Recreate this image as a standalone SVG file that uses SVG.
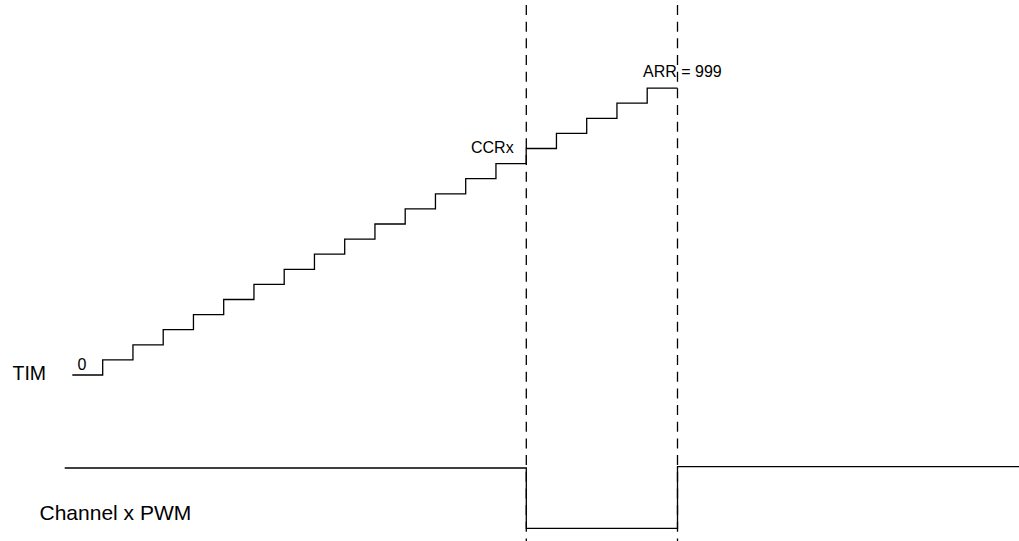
<svg xmlns="http://www.w3.org/2000/svg" width="1019" height="541" viewBox="0 0 1019 541">
<style>
.ln{fill:none;stroke:#000;stroke-width:1.3}
.dash{fill:none;stroke:#000;stroke-width:1.3;stroke-dasharray:10 6.67}
text{font-family:"Liberation Sans",Arial,sans-serif;fill:#000}
</style>
<rect width="1019" height="541" fill="#fff"/>
<g id="connectors">
<line class="dash" x1="526.3" y1="5" x2="526.3" y2="541"/>
<line class="dash" x1="677.5" y1="5" x2="677.5" y2="541"/>
</g>
<g id="tim-counter">
<path class="ln" d="M72.3,375 H102.7 V359.9 H132.95 V344.8 H163.2 V329.7 H193.45 V314.6 H223.7 V299.5 H253.95 V284.4 H284.2 V269.3 H314.45 V254.2 H344.7 V239.1 H374.95 V224 H405.2 V208.9 H435.45 V193.8 H465.7 V178.7 H495.95 V163.6 H526.2 V148.5 H556.45 V133.4 H586.7 V118.3 H616.95 V103.2 H647.2 V88.1 H677.5"/>
<text x="12.5" y="380" font-size="19.5">TIM</text>
<text x="77.5" y="369.5" font-size="16">0</text>
<text x="471" y="153.3" font-size="16">CCRx</text>
<text x="643" y="77" font-size="16">ARR = 999</text>
</g>
<g id="pwm">
<path class="ln" d="M64.7,468 H526.3 V528.3 H677.5 V466.7 H1019"/>
<text x="39.5" y="520" font-size="21">Channel x PWM</text>
</g>
</svg>
